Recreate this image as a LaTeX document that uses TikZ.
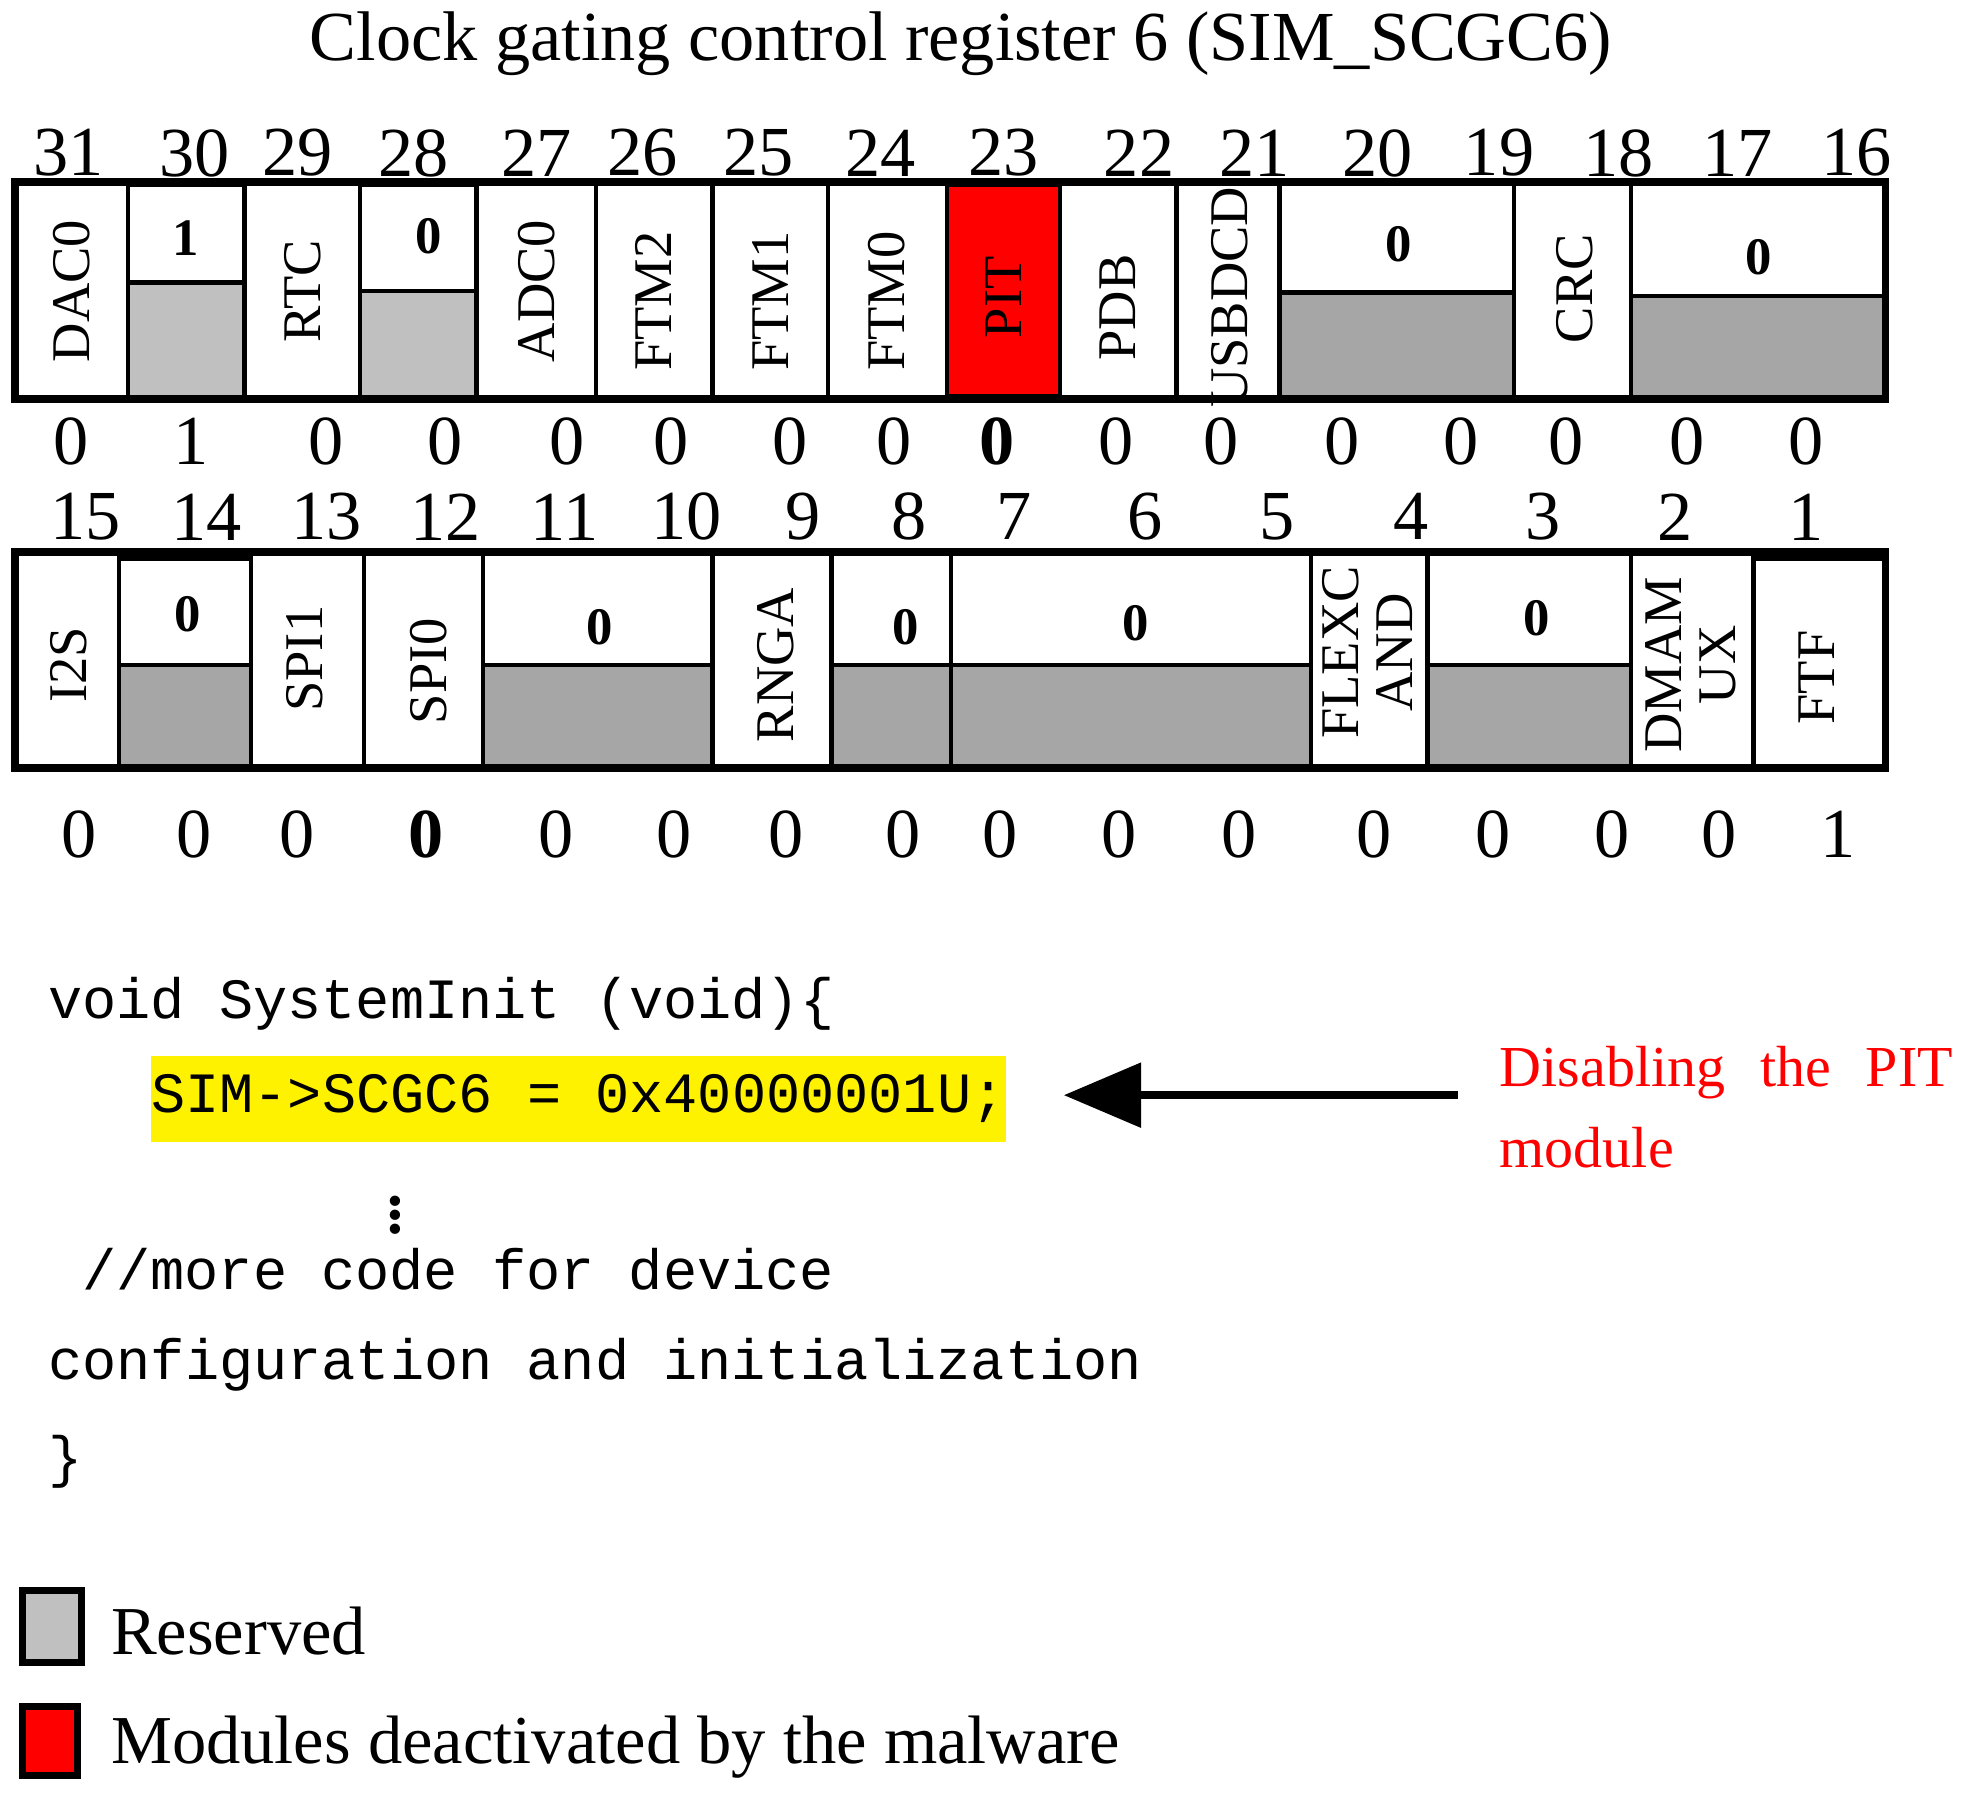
\documentclass[tikz,border=0pt]{standalone}
\usepackage{fontspec}
\setmainfont{Liberation Serif}
\setmonofont{Liberation Mono}
\usetikzlibrary{arrows.meta}
\definecolor{lgray}{HTML}{C0C0C0}
\definecolor{dgray}{HTML}{A6A6A6}
\begin{document}
\begin{tikzpicture}[x=0.012545cm,y=-0.012545cm,
  cell/.style={draw,line width=1.3pt,fill=white},
  lab/.style={rotate=90,font=\fontsize{15.5}{15.5}\selectfont,align=center,inner sep=0pt},
  zr/.style={font=\bfseries\fontsize{15}{15}\selectfont},
  num/.style={font=\fontsize{20}{20}\selectfont},
  code/.style={anchor=west,font=\ttfamily\fontsize{16.2}{16.2}\selectfont,inner sep=0pt}]
\useasboundingbox (0,0) rectangle (1568,1431);
\node[font=\fontsize{20}{20}\selectfont] (title) at (766,35) {Clock gating control register 6 (SIM\_SCGC6)};
% row 1
\draw[cell] (12,145) rectangle (102,318); \node[lab] (dac) at (57,232) {DAC0};
\draw[cell] (102,147) rectangle (195,225); \draw[cell,fill=lgray] (102,225) rectangle (195,318); \node[zr] (b30) at (148,190) {1};
\draw[cell] (195,145) rectangle (287,318); \node[lab] (rtc) at (241,232) {RTC};
\draw[cell] (287,147) rectangle (380,232); \draw[cell,fill=lgray] (287,232) rectangle (380,318); \node[zr] (b28) at (342,188) {0};
\draw[cell] (380,145) rectangle (475,318); \node[lab] (adc) at (428,232) {ADC0};
\draw[cell] (475,145) rectangle (568,318); \node[lab] (ftm2) at (521,240) {FTM2};
\draw[cell] (568,145) rectangle (660,318); \node[lab] (ftm1) at (614,240) {FTM1};
\draw[cell] (660,145) rectangle (755,318); \node[lab] (ftm0) at (707,240) {FTM0};
\draw[cell,fill=red] (755,147) rectangle (845,316); \node[lab] (pit) at (800,237) {PIT};
\draw[cell] (845,145) rectangle (938,318); \node[lab] (pdb) at (891,245) {PDB};
\draw[cell] (938,145) rectangle (1020,318); \node[lab] (usb) at (980,237) {USBDCD};
\draw[cell] (1020,145) rectangle (1207,233); \draw[cell,fill=dgray] (1020,233) rectangle (1207,318); \node[zr] (b20) at (1115,195) {0};
\draw[cell] (1207,145) rectangle (1300,318); \node[lab] (crc) at (1255,230) {CRC};
\draw[cell] (1300,145) rectangle (1503,236); \draw[cell,fill=dgray] (1300,236) rectangle (1503,318); \node[zr] (b17) at (1402,205) {0};
\draw[line width=2.2pt] (12,145) rectangle (1503,318);
\foreach \x/\t [count=\i] in {55/31,155/30,237/29,330/28,428/27,512/26,605/25,702/24,800/23,908/22,1000/21,1098/20,1195/19,1290/18,1385/17,1480/16}
  \node[num] (n\i) at (\x,122) {\t};
\foreach \x [count=\i] in {57,152,260,355,452,535,630,713,795,890,973,1070,1165,1248,1345,1440}
  \node[num] (v\i) at (\x,352) {\ifnum\i=2 1\else\ifnum\i=9 \textbf{0}\else 0\fi\fi};
% row 2
\draw[cell] (12,440) rectangle (95,612); \node[lab] (i2s) at (55,530) {I2S};
\draw[cell] (95,445) rectangle (200,530); \draw[cell,fill=dgray] (95,530) rectangle (200,612); \node[zr] (b14) at (150,490) {0};
\draw[cell] (200,440) rectangle (290,612); \node[lab] (spi1) at (243,525) {SPI1};
\draw[cell] (290,440) rectangle (385,612); \node[lab] (spi0) at (342,535) {SPI0};
\draw[cell] (385,440) rectangle (568,530); \draw[cell,fill=dgray] (385,530) rectangle (568,612); \node[zr] (b11) at (478,500) {0};
\draw[cell] (568,440) rectangle (663,612); \node[lab] (rnga) at (618,530) {RNGA};
\draw[cell] (663,440) rectangle (758,530); \draw[cell,fill=dgray] (663,530) rectangle (758,612); \node[zr] (b8) at (722,500) {0};
\draw[cell] (758,440) rectangle (1045,530); \draw[cell,fill=dgray] (758,530) rectangle (1045,612); \node[zr] (b7) at (905,497) {0};
\draw[cell] (1045,440) rectangle (1138,612); \node[lab] (flex) at (1090,520) {FLEXC\\AND};
\draw[cell] (1138,440) rectangle (1300,530); \draw[cell,fill=dgray] (1138,530) rectangle (1300,612); \node[zr] (b3) at (1225,493) {0};
\draw[cell] (1300,440) rectangle (1398,612); \node[lab] (dma) at (1348,530) {DMAM\\UX};
\draw[cell] (1398,445) rectangle (1503,612); \node[lab] (ftf) at (1448,540) {FTF};
\draw[line width=2.2pt] (12,440) rectangle (1503,612);
\foreach \x/\t [count=\i] in {68/15,165/14,260/13,355/12,450/11,547/10,640/9,725/8,808/7,913/6,1018/5,1125/4,1230/3,1335/2,1440/1}
  \node[num] (m\i) at (\x,412) {\t};
\foreach \x [count=\i] in {63,155,237,340,443,537,627,720,797,892,988,1095,1190,1285,1370,1465}
  \node[num] (w\i) at (\x,665) {\ifnum\i=16 1\else\ifnum\i=4 \textbf{0}\else 0\fi\fi};
% code
\node[code] (c1) at (38,800) {void SystemInit (void)\{};
\fill[yellow] (120,842) rectangle (802,910);
\node[code] (c2) at (120,876) {SIM->SCGC6 = 0x40000001U;};
\node[font=\bfseries\fontsize{18}{18}\selectfont,inner sep=0pt] (dots) at (315,960) {$\vdots$};
\node[code] (c3) at (65,1012) {//more code for device};
\node[code] (c4) at (38,1088) {configuration and initialization};
\node[code] (c5) at (38,1165) {\}};
\coordinate (as) at (1162,873);
\coordinate (ae) at (848,873);
\draw[line width=2.4pt,-{Triangle[length=22pt,width=18pt]}] (as) -- (ae);
\node[anchor=west,text=red,font=\fontsize{16.5}{16.5}\selectfont,inner sep=0pt] (d1) at (1195,855) {Disabling\hspace{0.6em}the\hspace{0.6em}PIT};
\node[anchor=west,text=red,font=\fontsize{16.5}{16.5}\selectfont,inner sep=0pt] (d2) at (1195,915) {module};
% legend
\draw[line width=2pt,fill=lgray] (18,1268) rectangle (65,1325);
\node[anchor=west,font=\fontsize{19.5}{19.5}\selectfont,inner sep=0pt] (l1) at (88,1300) {Reserved};
\draw[line width=2pt,fill=red] (18,1360) rectangle (62,1415);
\node[anchor=west,font=\fontsize{19.5}{19.5}\selectfont,inner sep=0pt] (l2) at (88,1393) {Modules deactivated by the malware};
\end{tikzpicture}
\end{document}
